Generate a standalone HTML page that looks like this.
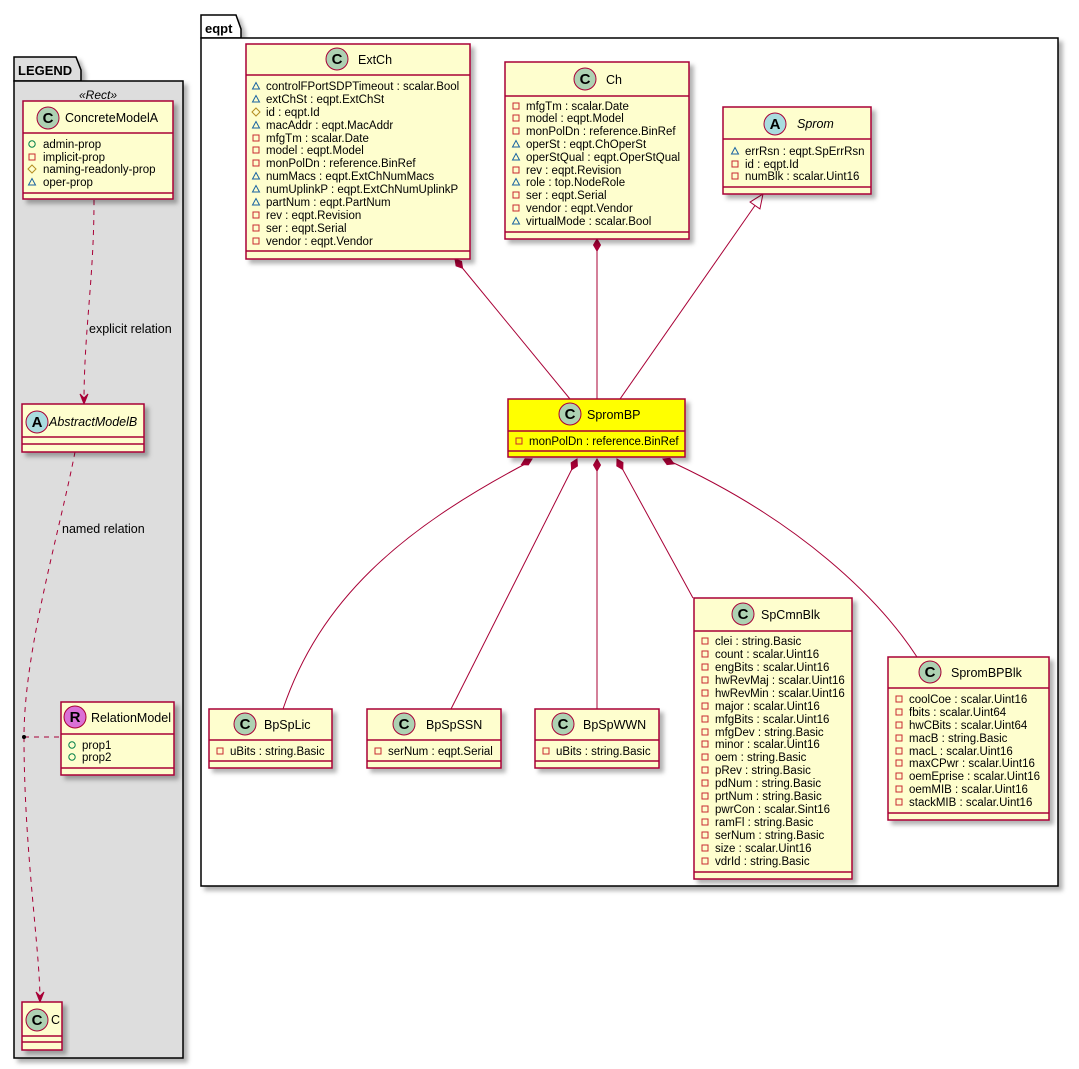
<!DOCTYPE html>
<html><head><meta charset="utf-8"><style>
html,body{margin:0;padding:0;background:#fff}
svg{display:block}
text{font-family:"Liberation Sans",sans-serif;fill:#000}
.a{font-size:11.5px}
.n{font-size:12.5px}
.b{fill:#FEFECE;stroke:#A80036;stroke-width:1.5}
.l{stroke:#A80036;stroke-width:1.5}
.e{fill:none;stroke:#A80036;stroke-width:1}
.tri{fill:none;stroke:#1963A0;stroke-width:1}
.sq{fill:none;stroke:#C82930;stroke-width:1}
.dm{fill:none;stroke:#B38D22;stroke-width:1}
.ci{fill:none;stroke:#038048;stroke-width:1}
.hc{fill:#ADD1B2;stroke:#A80036;stroke-width:1}
.ha{fill:#A9DCDF;stroke:#A80036;stroke-width:1}
.hl{font-size:15px;font-weight:bold;text-anchor:middle}
</style></head><body>
<svg width="1079" height="1069" viewBox="0 0 1079 1069" xmlns="http://www.w3.org/2000/svg">
<defs>
<filter id="sh" x="-10%" y="-10%" width="130%" height="130%"><feDropShadow dx="4" dy="4" stdDeviation="2" flood-color="#000" flood-opacity="0.3"/></filter>
<symbol id="t" overflow="visible"><polygon class="tri" points="-3.5,3 3.5,3 0,-3.5"/></symbol>
<symbol id="s" overflow="visible"><rect class="sq" x="-3" y="-3" width="6" height="6"/></symbol>
<symbol id="d" overflow="visible"><polygon class="dm" points="0,-4 4,0 0,4 -4,0"/></symbol>
<symbol id="c" overflow="visible"><circle class="ci" r="3.2"/></symbol>
</defs>

<!-- LEGEND package -->
<g filter="url(#sh)">
<path d="M14,81 V57 H76 L81,70 V81 Z" fill="#DDDDDD" stroke="#000" stroke-width="1.5"/>
<rect x="14" y="81" width="169" height="977" fill="#DDDDDD" stroke="#000" stroke-width="1.5"/>
</g>
<text x="18" y="75" style="font-size:13px;font-weight:bold">LEGEND</text>
<text x="98" y="99" style="font-size:12px;font-style:italic" text-anchor="middle">«Rect»</text>

<!-- eqpt package -->
<g filter="url(#sh)">
<path d="M201,38 V15 H236 L241,29 V38 Z" fill="#fff" stroke="#000" stroke-width="1.5"/>
<rect x="201" y="38" width="857" height="848" fill="#fff" stroke="#000" stroke-width="1.5"/>
</g>
<text x="205" y="33" style="font-size:13px;font-weight:bold">eqpt</text>

<!-- edges eqpt -->
<line class="e" x1="455" y1="259" x2="570" y2="399"/>
<polygon fill="#A80036" stroke="#A80036" points="0,0 6,-3.5 12,0 6,3.5" transform="translate(455,259) rotate(50.6)"/>
<line class="e" x1="597" y1="239" x2="597" y2="399"/>
<polygon fill="#A80036" stroke="#A80036" points="0,0 6,-3.5 12,0 6,3.5" transform="translate(597,239) rotate(90)"/>
<g transform="translate(763,194) rotate(124.9)">
<line class="e" x1="14" y1="0" x2="250" y2="0"/>
<polygon fill="#fff" stroke="#A80036" points="0,0 14,-6 14,6"/>
</g>
<path class="e" d="M527,463 C400,530 320,600 283,709"/>
<polygon fill="#A80036" stroke="#A80036" points="0,0 6,-3.5 12,0 6,3.5" transform="translate(532,459) rotate(152)"/>
<line class="e" x1="577" y1="459" x2="451" y2="709"/>
<polygon fill="#A80036" stroke="#A80036" points="0,0 6,-3.5 12,0 6,3.5" transform="translate(577,459) rotate(116.7)"/>
<line class="e" x1="597" y1="459" x2="597" y2="709"/>
<polygon fill="#A80036" stroke="#A80036" points="0,0 6,-3.5 12,0 6,3.5" transform="translate(597,459) rotate(90)"/>
<line class="e" x1="617" y1="459" x2="693" y2="598"/>
<polygon fill="#A80036" stroke="#A80036" points="0,0 6,-3.5 12,0 6,3.5" transform="translate(617,459) rotate(61.3)"/>
<path class="e" d="M665,459 C800,520 880,600 917,657"/>
<polygon fill="#A80036" stroke="#A80036" points="0,0 6,-3.5 12,0 6,3.5" transform="translate(663,459) rotate(24)"/>

<!-- legend edges -->
<path class="e" stroke-dasharray="5,5" d="M94,200 C94,280 84,330 84,403"/>
<polygon fill="#A80036" stroke="#A80036" points="84,404 80,394 84,398 88,394"/>
<text x="89" y="333" style="font-size:12.5px">explicit relation</text>
<path class="e" stroke-dasharray="5,5" d="M75,452 C60,530 24,650 24,737"/>
<text x="62" y="533" style="font-size:12.5px">named relation</text>
<line class="e" stroke-dasharray="5,5" x1="24" y1="737" x2="61" y2="737"/>
<path class="e" stroke-dasharray="5,5" d="M24,737 C24,850 40,950 40,1001"/>
<polygon fill="#A80036" stroke="#A80036" points="40,1002 36,992 40,996 44,992"/>
<circle cx="24" cy="737" r="2" fill="#000"/>

<!-- ConcreteModelA -->
<rect class="b" x="23" y="101" width="150" height="98" filter="url(#sh)"/>
<line class="l" x1="23" y1="133" x2="173" y2="133"/><line class="l" x1="23" y1="193" x2="173" y2="193"/>
<circle class="hc" cx="48" cy="118" r="11"/><text class="hl" x="48" y="123">C</text>
<text class="n" x="65" y="122">ConcreteModelA</text>
<use href="#c" x="32" y="144"/><text class="a" x="43" y="148">admin-prop</text>
<use href="#s" x="32" y="157"/><text class="a" x="43" y="161">implicit-prop</text>
<use href="#d" x="32" y="169"/><text class="a" x="43" y="173">naming-readonly-prop</text>
<use href="#t" x="32" y="182"/><text class="a" x="43" y="186">oper-prop</text>

<!-- AbstractModelB -->
<rect class="b" x="22" y="404" width="122" height="48" filter="url(#sh)"/>
<line class="l" x1="22" y1="437" x2="144" y2="437"/><line class="l" x1="22" y1="444" x2="144" y2="444"/>
<circle class="ha" cx="37" cy="422" r="11"/><text class="hl" x="37" y="427">A</text>
<text class="n" x="49" y="426" font-style="italic">AbstractModelB</text>

<!-- RelationModel -->
<rect class="b" x="61" y="702" width="113" height="73" filter="url(#sh)"/>
<line class="l" x1="61" y1="734" x2="174" y2="734"/><line class="l" x1="61" y1="768" x2="174" y2="768"/>
<circle cx="75" cy="717" r="11" fill="#DA70D6" stroke="#A80036"/><text class="hl" x="75" y="722">R</text>
<text class="n" x="91" y="722" textLength="80" lengthAdjust="spacingAndGlyphs">RelationModel</text>
<use href="#c" x="72" y="745"/><text class="a" x="82" y="749">prop1</text>
<use href="#c" x="72" y="757"/><text class="a" x="82" y="761">prop2</text>

<!-- C -->
<rect class="b" x="22" y="1002" width="40" height="48" filter="url(#sh)"/>
<line class="l" x1="22" y1="1036" x2="62" y2="1036"/><line class="l" x1="22" y1="1042" x2="62" y2="1042"/>
<circle class="hc" cx="37" cy="1020" r="11"/><text class="hl" x="37" y="1025">C</text>
<text class="n" x="51" y="1024">C</text>

<!-- ExtCh -->
<rect class="b" x="246" y="44" width="224" height="215" filter="url(#sh)"/>
<line class="l" x1="246" y1="75" x2="470" y2="75"/><line class="l" x1="246" y1="251" x2="470" y2="251"/>
<circle class="hc" cx="337" cy="59" r="11"/><text class="hl" x="337" y="64">C</text>
<text class="n" x="358" y="64">ExtCh</text>
<use href="#t" x="256" y="86"/><text class="a" x="266" y="90">controlFPortSDPTimeout : scalar.Bool</text>
<use href="#t" x="256" y="99"/><text class="a" x="266" y="103">extChSt : eqpt.ExtChSt</text>
<use href="#d" x="256" y="112"/><text class="a" x="266" y="116">id : eqpt.Id</text>
<use href="#t" x="256" y="125"/><text class="a" x="266" y="129">macAddr : eqpt.MacAddr</text>
<use href="#s" x="256" y="138"/><text class="a" x="266" y="142">mfgTm : scalar.Date</text>
<use href="#s" x="256" y="150"/><text class="a" x="266" y="154">model : eqpt.Model</text>
<use href="#s" x="256" y="163"/><text class="a" x="266" y="167">monPolDn : reference.BinRef</text>
<use href="#t" x="256" y="176"/><text class="a" x="266" y="180">numMacs : eqpt.ExtChNumMacs</text>
<use href="#t" x="256" y="189"/><text class="a" x="266" y="193">numUplinkP : eqpt.ExtChNumUplinkP</text>
<use href="#t" x="256" y="202"/><text class="a" x="266" y="206">partNum : eqpt.PartNum</text>
<use href="#s" x="256" y="215"/><text class="a" x="266" y="219">rev : eqpt.Revision</text>
<use href="#s" x="256" y="228"/><text class="a" x="266" y="232">ser : eqpt.Serial</text>
<use href="#s" x="256" y="241"/><text class="a" x="266" y="245">vendor : eqpt.Vendor</text>

<!-- Ch -->
<rect class="b" x="505" y="62" width="184" height="177" filter="url(#sh)"/>
<line class="l" x1="505" y1="96" x2="689" y2="96"/><line class="l" x1="505" y1="232" x2="689" y2="232"/>
<circle class="hc" cx="585" cy="79" r="11"/><text class="hl" x="585" y="84">C</text>
<text class="n" x="606" y="84">Ch</text>
<use href="#s" x="516" y="106"/><text class="a" x="526" y="110">mfgTm : scalar.Date</text>
<use href="#s" x="516" y="118"/><text class="a" x="526" y="122">model : eqpt.Model</text>
<use href="#s" x="516" y="131"/><text class="a" x="526" y="135">monPolDn : reference.BinRef</text>
<use href="#t" x="516" y="144"/><text class="a" x="526" y="148">operSt : eqpt.ChOperSt</text>
<use href="#t" x="516" y="157"/><text class="a" x="526" y="161">operStQual : eqpt.OperStQual</text>
<use href="#s" x="516" y="170"/><text class="a" x="526" y="174">rev : eqpt.Revision</text>
<use href="#t" x="516" y="182"/><text class="a" x="526" y="186">role : top.NodeRole</text>
<use href="#s" x="516" y="195"/><text class="a" x="526" y="199">ser : eqpt.Serial</text>
<use href="#s" x="516" y="208"/><text class="a" x="526" y="212">vendor : eqpt.Vendor</text>
<use href="#t" x="516" y="221"/><text class="a" x="526" y="225">virtualMode : scalar.Bool</text>

<!-- Sprom -->
<rect class="b" x="723" y="107" width="148" height="87" filter="url(#sh)"/>
<line class="l" x1="723" y1="139" x2="871" y2="139"/><line class="l" x1="723" y1="187" x2="871" y2="187"/>
<circle class="ha" cx="775" cy="124" r="11"/><text class="hl" x="775" y="129">A</text>
<text class="n" x="797" y="128" font-style="italic">Sprom</text>
<use href="#t" x="735" y="151"/><text class="a" x="745" y="155">errRsn : eqpt.SpErrRsn</text>
<use href="#s" x="735" y="164"/><text class="a" x="745" y="168">id : eqpt.Id</text>
<use href="#s" x="735" y="176"/><text class="a" x="745" y="180">numBlk : scalar.Uint16</text>

<!-- SpromBP -->
<rect x="508" y="399" width="177" height="58" fill="#FFFF00" stroke="#A80036" stroke-width="1.5" filter="url(#sh)"/>
<line class="l" x1="508" y1="431" x2="685" y2="431"/><line class="l" x1="508" y1="451" x2="685" y2="451"/>
<circle class="hc" cx="570" cy="414" r="11"/><text class="hl" x="570" y="419">C</text>
<text class="n" x="587" y="419">SpromBP</text>
<use href="#s" x="519" y="441"/><text class="a" x="529" y="445">monPolDn : reference.BinRef</text>

<!-- BpSpLic -->
<rect class="b" x="209" y="709" width="123" height="59" filter="url(#sh)"/>
<line class="l" x1="209" y1="740" x2="332" y2="740"/><line class="l" x1="209" y1="761" x2="332" y2="761"/>
<circle class="hc" cx="245" cy="724" r="11"/><text class="hl" x="245" y="729">C</text>
<text class="n" x="264" y="729">BpSpLic</text>
<use href="#s" x="220" y="751"/><text class="a" x="230" y="755">uBits : string.Basic</text>

<!-- BpSpSSN -->
<rect class="b" x="367" y="709" width="134" height="59" filter="url(#sh)"/>
<line class="l" x1="367" y1="740" x2="501" y2="740"/><line class="l" x1="367" y1="761" x2="501" y2="761"/>
<circle class="hc" cx="404" cy="724" r="11"/><text class="hl" x="404" y="729">C</text>
<text class="n" x="426" y="729">BpSpSSN</text>
<use href="#s" x="378" y="751"/><text class="a" x="388" y="755">serNum : eqpt.Serial</text>

<!-- BpSpWWN -->
<rect class="b" x="535" y="709" width="124" height="59" filter="url(#sh)"/>
<line class="l" x1="535" y1="740" x2="659" y2="740"/><line class="l" x1="535" y1="761" x2="659" y2="761"/>
<circle class="hc" cx="563" cy="724" r="11"/><text class="hl" x="563" y="729">C</text>
<text class="n" x="583" y="729">BpSpWWN</text>
<use href="#s" x="546" y="751"/><text class="a" x="556" y="755">uBits : string.Basic</text>

<!-- SpCmnBlk -->
<rect class="b" x="694" y="598" width="158" height="281" filter="url(#sh)"/>
<line class="l" x1="694" y1="631" x2="852" y2="631"/><line class="l" x1="694" y1="872" x2="852" y2="872"/>
<circle class="hc" cx="743" cy="614" r="11"/><text class="hl" x="743" y="619">C</text>
<text class="n" x="761" y="619">SpCmnBlk</text>
<use href="#s" x="705" y="641"/><text class="a" x="715" y="645">clei : string.Basic</text>
<use href="#s" x="705" y="654"/><text class="a" x="715" y="658">count : scalar.Uint16</text>
<use href="#s" x="705" y="667"/><text class="a" x="715" y="671">engBits : scalar.Uint16</text>
<use href="#s" x="705" y="680"/><text class="a" x="715" y="684">hwRevMaj : scalar.Uint16</text>
<use href="#s" x="705" y="693"/><text class="a" x="715" y="697">hwRevMin : scalar.Uint16</text>
<use href="#s" x="705" y="706"/><text class="a" x="715" y="710">major : scalar.Uint16</text>
<use href="#s" x="705" y="719"/><text class="a" x="715" y="723">mfgBits : scalar.Uint16</text>
<use href="#s" x="705" y="732"/><text class="a" x="715" y="736">mfgDev : string.Basic</text>
<use href="#s" x="705" y="744"/><text class="a" x="715" y="748">minor : scalar.Uint16</text>
<use href="#s" x="705" y="757"/><text class="a" x="715" y="761">oem : string.Basic</text>
<use href="#s" x="705" y="770"/><text class="a" x="715" y="774">pRev : string.Basic</text>
<use href="#s" x="705" y="783"/><text class="a" x="715" y="787">pdNum : string.Basic</text>
<use href="#s" x="705" y="796"/><text class="a" x="715" y="800">prtNum : string.Basic</text>
<use href="#s" x="705" y="809"/><text class="a" x="715" y="813">pwrCon : scalar.Sint16</text>
<use href="#s" x="705" y="822"/><text class="a" x="715" y="826">ramFl : string.Basic</text>
<use href="#s" x="705" y="835"/><text class="a" x="715" y="839">serNum : string.Basic</text>
<use href="#s" x="705" y="848"/><text class="a" x="715" y="852">size : scalar.Uint16</text>
<use href="#s" x="705" y="861"/><text class="a" x="715" y="865">vdrId : string.Basic</text>

<!-- SpromBPBlk -->
<rect class="b" x="888" y="657" width="161" height="163" filter="url(#sh)"/>
<line class="l" x1="888" y1="688" x2="1049" y2="688"/><line class="l" x1="888" y1="813" x2="1049" y2="813"/>
<circle class="hc" cx="930" cy="672" r="11"/><text class="hl" x="930" y="677">C</text>
<text class="n" x="951" y="677">SpromBPBlk</text>
<use href="#s" x="899" y="699"/><text class="a" x="909" y="703">coolCoe : scalar.Uint16</text>
<use href="#s" x="899" y="712"/><text class="a" x="909" y="716">fbits : scalar.Uint64</text>
<use href="#s" x="899" y="725"/><text class="a" x="909" y="729">hwCBits : scalar.Uint64</text>
<use href="#s" x="899" y="738"/><text class="a" x="909" y="742">macB : string.Basic</text>
<use href="#s" x="899" y="751"/><text class="a" x="909" y="755">macL : scalar.Uint16</text>
<use href="#s" x="899" y="763"/><text class="a" x="909" y="767">maxCPwr : scalar.Uint16</text>
<use href="#s" x="899" y="776"/><text class="a" x="909" y="780">oemEprise : scalar.Uint16</text>
<use href="#s" x="899" y="789"/><text class="a" x="909" y="793">oemMIB : scalar.Uint16</text>
<use href="#s" x="899" y="802"/><text class="a" x="909" y="806">stackMIB : scalar.Uint16</text>
</svg>
</body></html>
